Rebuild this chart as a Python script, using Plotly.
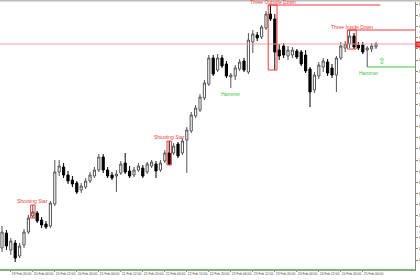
import plotly.graph_objects as go

# ---------------- data ----------------
opens = [149.008,149.143,148.990,149.053,148.936,149.035,149.152,149.296,149.323,149.260,
         149.224,149.206,149.404,149.692,149.737,149.665,149.620,149.593,149.530,149.557,
         149.611,149.656,149.710,149.827,149.710,149.665,149.656,149.683,149.773,149.701,
         149.665,149.710,149.728,149.692,149.746,149.764,149.710,149.791,149.863,149.863,
         149.944,149.863,149.980,150.061,150.196,150.250,150.358,150.484,150.718,150.610,
         150.718,150.664,150.547,150.556,150.619,150.691,150.592,150.862,150.925,150.907,
         150.988,151.114,151.069,150.790,150.826,150.736,150.745,150.781,150.772,150.745,
         150.619,150.430,150.556,150.637,150.682,150.628,150.565,150.718,150.808,150.844,
         150.916,150.835,150.835,150.790,150.799,150.817]
closes = [149.152,149.026,149.071,148.918,149.026,149.152,149.278,149.332,149.251,149.215,
          149.197,149.413,149.692,149.746,149.665,149.611,149.584,149.512,149.566,149.611,
          149.665,149.710,149.827,149.710,149.656,149.638,149.674,149.764,149.692,149.656,
          149.710,149.746,149.656,149.764,149.782,149.701,149.773,149.863,149.764,149.926,
          149.836,149.971,150.070,150.205,150.268,150.367,150.493,150.718,150.574,150.718,
          150.646,150.556,150.565,150.628,150.682,150.610,150.880,150.934,150.898,150.997,
          151.114,151.069,150.772,150.736,150.745,150.790,150.790,150.727,150.664,150.601,
          150.412,150.565,150.655,150.691,150.583,150.565,150.718,150.826,150.844,150.916,
          150.817,150.808,150.772,150.808,150.826,150.844]
highs = [149.206,149.170,149.098,149.080,149.053,149.179,149.305,149.395,149.341,149.287,
         149.251,149.431,149.800,149.800,149.773,149.701,149.656,149.611,149.593,149.638,
         149.692,149.737,149.854,149.854,149.737,149.692,149.710,149.791,149.863,149.746,
         149.737,149.773,149.755,149.782,149.800,149.791,149.800,149.890,149.971,149.953,
         149.962,149.998,150.097,150.232,150.295,150.394,150.520,150.745,150.745,150.754,
         150.745,150.691,150.583,150.655,150.709,150.718,150.943,150.970,150.952,151.015,
         151.141,151.195,151.114,150.844,150.853,150.826,150.817,150.799,150.790,150.790,
         150.637,150.592,150.682,150.718,150.709,150.664,150.736,150.862,150.871,150.970,
         150.943,150.862,150.862,150.826,150.853,150.862]
lows = [148.972,148.990,148.945,148.882,148.918,149.008,149.134,149.278,149.233,149.188,
        149.179,149.188,149.386,149.656,149.638,149.584,149.557,149.494,149.503,149.539,
        149.593,149.638,149.692,149.683,149.638,149.620,149.512,149.665,149.674,149.638,
        149.647,149.692,149.638,149.674,149.728,149.638,149.692,149.773,149.755,149.845,
        149.818,149.845,149.683,150.043,150.178,150.232,150.340,150.466,150.556,150.592,
        150.628,150.538,150.448,150.520,150.601,150.592,150.574,150.763,150.871,150.889,
        150.970,151.051,150.610,150.700,150.718,150.700,150.718,150.709,150.646,150.583,
        150.277,150.403,150.529,150.592,150.556,150.538,150.412,150.700,150.772,150.808,
        150.799,150.790,150.754,150.637,150.772,150.799]
idx = list(range(len(opens)))

tick_pos = [2, 7, 12, 17, 22, 27, 32, 37, 42, 47, 52, 57, 62, 67, 72, 77, 82]
tick_labels = ["19 Feb 20:00", "20 Feb 04:00", "20 Feb 12:00", "20 Feb 20:00", "21 Feb 04:00",
               "21 Feb 12:00", "21 Feb 20:00", "22 Feb 04:00", "22 Feb 12:00", "22 Feb 20:00",
               "23 Feb 04:00", "23 Feb 12:00", "23 Feb 20:00", "24 Feb 04:00", "24 Feb 12:00",
               "24 Feb 20:00", "25 Feb 04:00"]

# candlestick patterns: name, candle indices, kind
pattern_names = ["Shooting Star", "Shooting Star", "Hammer", "Three Outside Down",
                 "Three Inside Down", "Hammer"]
pattern_bars = [[7], [38], [52], [61, 62], [79, 80], [83]]
pattern_bear = [True, True, False, True, True, False]
pattern_box = [True, True, False, True, True, False]
pattern_level = [None, None, None, "high", "high", "low"]
bottom_level = 148.81

# ---------------- figure ----------------
X_MIN, X_MAX = -0.4545, 93.86
Y_MIN, Y_MAX = 148.81, 151.222
RED = "#f03c3c"
GREEN = "#3cc83c"

fig = go.Figure(go.Candlestick(
    x=idx, open=opens, high=highs, low=lows, close=closes,
    increasing=dict(line=dict(color="#555555", width=1), fillcolor="white"),
    decreasing=dict(line=dict(color="#000000", width=1), fillcolor="#000000"),
    whiskerwidth=0, showlegend=False, hoverinfo="skip"))

shapes = []
annotations = []
# top border and bottom level line
shapes.append(dict(type="line", xref="paper", yref="paper", x0=0, x1=1.02, y0=1.0055, y1=1.0055,
                   line=dict(color="#bbbbbb", width=2)))
shapes.append(dict(type="line", xref="paper", yref="y", x0=0, x1=1, y0=bottom_level, y1=bottom_level,
                   line=dict(color="#66cc66", width=2)))
# current price line
last = closes[-1]
shapes.append(dict(type="line", xref="paper", yref="y", x0=0, x1=1, y0=last, y1=last,
                   line=dict(color="#e8a0a8", width=1)))
annotations.append(dict(xref="paper", yref="y", x=1, y=last, xanchor="left", yanchor="middle",
                        text="%.2f" % last, showarrow=False, bgcolor="#e02020",
                        font=dict(size=4, color="white"), borderpad=0))

for name, bars, bear, box, lvl in zip(pattern_names, pattern_bars, pattern_bear, pattern_box, pattern_level):
    col = RED if bear else GREEN
    hi = max(highs[b] for b in bars)
    lo = min(lows[b] for b in bars)
    x0 = min(bars) - 0.5
    x1 = max(bars) + 0.5
    xc = (min(bars) + max(bars)) / 2
    if box:
        shapes.append(dict(type="rect", xref="x", yref="y", x0=x0, x1=x1, y0=lo, y1=hi,
                           line=dict(color=col, width=1)))
    if lvl == "high":
        end = 86 if name == "Three Outside Down" else X_MAX
        shapes.append(dict(type="line", xref="x", yref="y", x0=x0, x1=end, y0=hi, y1=hi,
                           line=dict(color=col, width=1)))
    elif lvl == "low":
        shapes.append(dict(type="line", xref="x", yref="y", x0=bars[0], x1=X_MAX, y0=lo, y1=lo,
                           line=dict(color=col, width=1)))
    if bear:
        annotations.append(dict(x=xc, y=hi, yanchor="bottom", text=name, showarrow=False,
                                font=dict(size=5, color=col, family="Liberation Sans"),
                                yshift=-2 if lvl else -1))
    else:
        annotations.append(dict(x=xc + (0.5 if lvl else 0), y=lo, yanchor="top", text=name, showarrow=False,
                                font=dict(size=5, color=col, family="Liberation Sans"), yshift=-1))
        if lvl == "low":
            annotations.append(dict(x=bars[0] + 3.3, y=lo + 0.055, text="⇧", showarrow=False,
                                    font=dict(size=9, color=GREEN)))

fig.update_layout(
    width=420, height=280, autosize=False,
    margin=dict(l=0, r=5, t=2, b=10),
    paper_bgcolor="white", plot_bgcolor="white",
    shapes=shapes, annotations=annotations,
    xaxis=dict(range=[X_MIN, X_MAX], rangeslider=dict(visible=False), showgrid=False, zeroline=False,
               tickmode="array", tickvals=tick_pos, ticktext=tick_labels, ticks="outside",
               ticklen=1, tickcolor="#888888", ticklabelposition="outside right", tickangle=0,
               tickfont=dict(size=3.3, color="#444444", family="Liberation Sans"),
               showline=True, linecolor="#999999", linewidth=1, automargin=False),
    yaxis=dict(range=[Y_MIN, Y_MAX], side="right", showgrid=False, zeroline=False,
               tick0=151.2, dtick=0.1, tickformat=".2f", ticks="outside", ticklen=2,
               tickcolor="#888888", tickfont=dict(size=4, color="#444444", family="Liberation Sans"),
               showline=True, linecolor="#888888", linewidth=1, automargin=False),
)

fig.write_html("out.html")
